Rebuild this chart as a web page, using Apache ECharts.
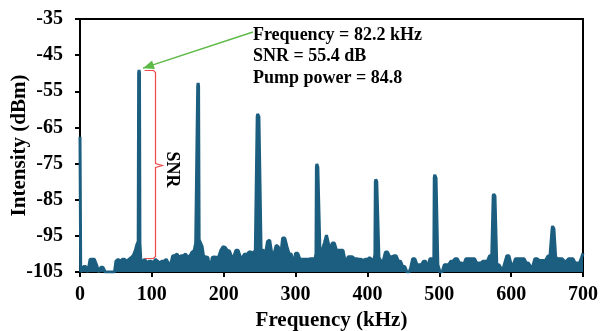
<!DOCTYPE html>
<html>
<head>
<meta charset="utf-8">
<script src="https://cdn.jsdelivr.net/npm/echarts@6/dist/echarts.min.js"></script>
<style>html,body{margin:0;padding:0;background:#fff}#c{width:600px;height:331px}</style>
</head>
<body>
<div id="c"></div>
<script>
// Frequency (kHz) and intensity (dBm)
var freqs = [0,1,3,5,8,11,14,17,20,23,26,29,32,35,40,45,48,50,53,56,59,62,65,68,71,74,77,79,81,81.6,82.2,82.8,83.4,85.5,87,90,93,96,99,102,105,108,111,114,117,120,123,126,129,132,135,138,141,144,147,150,153,156,159,161,163,163.8,164.4,165,165.8,168,170,172,175,178,181,184,187,190,193,196,199,202,205,208,211,214,217,220,223,226,229,232,235,238,241,244,246,246.6,247.2,249,252,255,258,261,264,267,270,273,276,279,282,285,288,291,294,297,300,303,306,309,312,315,318,321,324,327,328.4,329,329.6,331,334,337,340,343,345,348,351,354,357,360,363,366,368,370,373,376,379,382,385,388,391,394,397,400,403,406,409,410.4,411,411.6,413,416,419,422,425,428,431,434,437,440,443,446,449,452,455,458,460,463,466,469,472,475,478,481,484,487,490,492.4,493,493.6,495.5,498,501,504,507,510,513,516,519,522,525,528,531,534,537,540,543,546,549,552,555,558,561,564,567,570,573,574.4,575,575.6,577.5,580,583,586,589,591,594,597,600,603,606,609,612,615,618,621,624,627,630,633,636,639,642,645,648,651,654,656.4,657,657.6,659.5,662,665,668,671,674,677,680,683,686,689,692,695,698,700];
var intensity = [-67.6,-105,-105,-103.5,-103.5,-105,-101.5,-101.5,-101.5,-103,-105,-103.7,-103.7,-105,-105,-105,-105,-102,-101.5,-102,-101.5,-101.5,-102,-101.5,-101,-100.5,-99,-97.5,-96.5,-50,-49.1,-50,-97,-105,-102,-101.5,-102.5,-102,-102,-102.5,-101.5,-102,-102.5,-102,-102,-101.5,-102.5,-103,-100.5,-100.5,-100,-101,-100.5,-100.5,-100,-101,-100.5,-99.5,-99,-97,-96.5,-53.5,-52.7,-53.5,-96,-95.6,-98,-100.8,-100.8,-101,-104.5,-101,-100.8,-101,-100.8,-99,-98,-98.2,-99,-99.2,-100.8,-100.8,-99,-99,-100.8,-101,-100,-100.2,-99.5,-99.5,-99.8,-99,-99,-62,-61.3,-62,-99,-99,-100,-96.5,-96.2,-100,-100,-97.6,-98,-101,-95.6,-95.6,-98,-100,-100,-103,-99.8,-99.8,-101.5,-101.5,-101.5,-101.5,-101.5,-101.3,-101.3,-101.3,-100,-76,-75.1,-76,-100,-99,-97,-94.8,-95,-99,-97,-97,-99,-99,-99,-99,-99.5,-103,-100.8,-100.8,-100.8,-101.3,-101.3,-101.5,-101.5,-101.8,-101.5,-101.5,-101,-101.5,-102,-100,-80,-79.4,-80,-101,-102,-102,-99.5,-99.5,-100.8,-100.8,-100.5,-100.5,-102,-102,-103.5,-103.5,-105,-105,-104,-101.3,-101.3,-103,-103,-103,-102,-102,-104,-101.3,-101.3,-102.5,-79,-78.1,-79,-103,-105,-105,-103,-103,-103,-102,-102,-101.3,-101.3,-102.5,-102.5,-103,-101.3,-101.3,-101.3,-101.3,-101.3,-102.5,-102.5,-102.5,-102,-102,-102,-100.5,-100.5,-101,-84,-83.4,-84,-103,-103,-104,-104,-104,-100.5,-100.5,-103,-103,-101.3,-101.3,-101.3,-101.3,-101.3,-102.5,-102.5,-103.5,-103.5,-101.3,-101.3,-101.8,-101.8,-101.8,-101.8,-100.6,-100.6,-101,-93,-92.3,-93,-101,-101.3,-101.3,-101.3,-102,-102,-101.3,-101.3,-101.3,-102.5,-102.5,-102.5,-101,-99.8,-99.8];
var xTicks = [0,100,200,300,400,500,600,700];
var yTicks = [-35,-45,-55,-65,-75,-85,-95,-105];
var annotationLines = ['Frequency = 82.2 kHz','SNR = 55.4 dB','Pump power = 84.8'];
var peakFreq = 82.2, peakVal = -49.1, noiseVal = -101.1;

var FONT = '"Liberation Serif","Times New Roman",serif';
var data = freqs.map(function(f,i){return [f,intensity[i]];});
var chart = echarts.init(document.getElementById('c'), null, {renderer:'canvas'});
var lineColor = '#1b5e7f';
chart.setOption({
  backgroundColor:'#ffffff',
  animation:false,
  grid:{left:80,right:17,top:19,bottom:59,outerBoundsMode:'none',containLabel:false,show:true,borderColor:'#000',borderWidth:2,backgroundColor:'transparent'},
  xAxis:{type:'value',min:0,max:700,interval:100,
    name:'Frequency (kHz)',nameLocation:'middle',nameGap:38,nameMoveOverlap:false,
    nameTextStyle:{fontFamily:FONT,fontWeight:'bold',fontSize:21,color:'#000'},
    axisLine:{show:true,lineStyle:{color:'#000',width:2}},
    axisTick:{show:true,length:5,lineStyle:{color:'#000',width:2}},
    splitLine:{show:false},
    axisLabel:{fontFamily:FONT,fontWeight:'bold',fontSize:20,color:'#000',margin:13}},
  yAxis:{type:'value',min:-105,max:-35,interval:10,
    name:'Intensity (dBm)',nameLocation:'middle',nameGap:50,nameRotate:90,nameMoveOverlap:false,
    nameTextStyle:{fontFamily:FONT,fontWeight:'bold',fontSize:21,color:'#000'},
    axisLine:{show:true,lineStyle:{color:'#000',width:2}},
    axisTick:{show:true,length:5,lineStyle:{color:'#000',width:2}},
    splitLine:{show:false},
    axisLabel:{fontFamily:FONT,fontWeight:'bold',fontSize:20,color:'#000',margin:17}},
  series:[{type:'line',data:data,showSymbol:false,symbol:'none',
    lineStyle:{color:lineColor,width:3},
    areaStyle:{color:lineColor,opacity:1,origin:'start'},
    clip:true,z:2}]
});

function px(f,v){return chart.convertToPixel({gridIndex:0},[f,v]);}
var tip = px(peakFreq+5.5, peakVal+0.5);
var tail = px(240.7, -38.6);
var bx = Math.round(px(104.4, 0)[0])+0.5;
var bTop = Math.round(px(0, peakVal)[1])+0.5;
var bBot = Math.round(px(0, noiseVal)[1])+0.5;
var bMid = Math.round((bTop+bBot)/2)+0.5;
var bLeft = px(90, 0)[0];
var textX = tail[0];
var textY0 = px(0,-39.4)[1];
var red = '#ee4a4a';
var graphics = [
  {type:'line',shape:{x1:tail[0],y1:tail[1],x2:tip[0],y2:tip[1]},style:{stroke:'#5cba47',lineWidth:1.5},z:10},
  {type:'polygon',shape:{points:(function(){
     var dx=tail[0]-tip[0], dy=tail[1]-tip[1], L=Math.sqrt(dx*dx+dy*dy); var ux=dx/L, uy=dy/L;
     var len=11, w=4.5;
     return [[tip[0],tip[1]],[tip[0]+ux*len-uy*w,tip[1]+uy*len+ux*w],[tip[0]+ux*len+uy*w,tip[1]+uy*len-ux*w]];
   })()},style:{fill:'#5cba47'},z:10},
  {type:'polyline',shape:{points:[[bLeft,bTop],[bx-2,bTop],[bx,bTop+2],[bx,bMid-2],[bx+7,bMid],[bx,bMid+2],[bx,bBot-2],[bx-2,bBot],[bLeft,bBot]]},style:{stroke:red,lineWidth:1.2,fill:null},z:10},
  {type:'text',x:bx+16,y:bMid+4,rotation:-Math.PI/2,style:{text:'SNR',font:'bold 18px '+FONT,fill:'#000',align:'center',verticalAlign:'middle'},z:10}
];
annotationLines.forEach(function(t,i){
  graphics.push({type:'text',x:textX,y:textY0+i*21.5,style:{text:t,font:'bold 18px '+FONT,fill:'#000',align:'left',verticalAlign:'middle'},z:10});
});
chart.setOption({graphic:graphics});
</script>
</body>
</html>
